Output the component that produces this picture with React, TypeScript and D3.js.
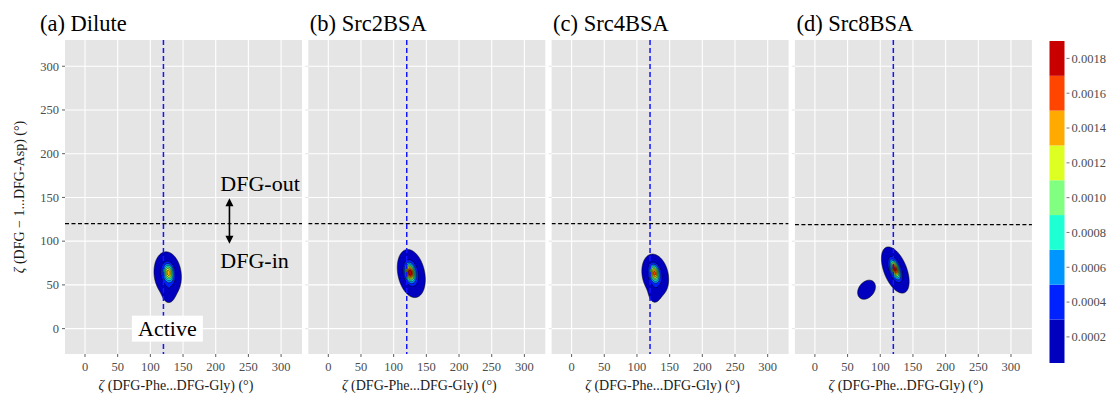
import React, { useMemo } from 'react';
import * as d3 from 'd3';

const W = 1111;
const H = 398;
const FONT = "'Liberation Serif', 'Times New Roman', serif";

// ---------- data ----------
const panelTitles = ['(a) Dilute', '(b) Src2BSA', '(c) Src4BSA', '(d) Src8BSA'];
const xTicks = [0, 50, 100, 150, 200, 250, 300];
const yTicks = [0, 50, 100, 150, 200, 250, 300];
const xDomain = [-30.6, 332];
const yDomain = [-29, 330];
const activeZeta = 120; // vertical dashed reference (x)
const dfgZeta = [120, 120, 120, 119]; // horizontal dashed reference (y), per panel

// density bins (fill levels) and colours
const levelBreaks = [0.00005, 0.0003, 0.0005, 0.0007, 0.0009, 0.0011, 0.0013, 0.0015, 0.0017];
const levelColors = ['#0000BE', '#0022FF', '#0096FF', '#1EFFD4', '#80FF80', '#DDFF22', '#FFAA00', '#FF4500', '#C80000'];
const barTicks = [0.0002, 0.0004, 0.0006, 0.0008, 0.001, 0.0012, 0.0014, 0.0016, 0.0018];
const barDomain = [0.00005, 0.0019];

// density modes: [cx, cy, sx, sy, rho, peak]
const modesDilute = [
  [126.5, 62, 10, 12.3, -0.12, 0.00045],
  [128, 40, 5, 6, 0, 0.00015],
  [128, 64, 4.8, 6, -0.15, 0.001],
];
const modesSrc2 = [
  [127, 63, 10, 12.8, -0.25, 0.0005],
  [125, 64, 4.5, 6, -0.2, 0.0014],
];
const modesSrc4 = [
  [128, 61, 9.8, 11.5, -0.2, 0.00045],
  [127, 40, 5, 6, 0, 0.00015],
  [126.6, 63.5, 4.5, 5.8, -0.2, 0.00115],
];
const modesSrc8 = [
  [123, 67, 9.9, 12.3, -0.5, 0.0005],
  [122.6, 68, 4.3, 6, -0.5, 0.0013],
  [79, 44.5, 7.6, 6.1, 0.3, 0.00025],
];
const panelModes = [modesDilute, modesSrc2, modesSrc4, modesSrc8];

// annotations (panel a)
const arrowX = 221;
const arrowY = [149, 97];
const labelOut = { x: 207, y: 157, text: 'DFG-out' };
const labelIn = { x: 207, y: 69, text: 'DFG-in' };
const labelActive = { x: 126, y: 0, text: 'Active' };

// ---------- layout ----------
const panelLefts = [65, 308.3, 551.6, 794.9];
const panelW = 237;
const panelTop = 40;
const panelBottom = 354;

// grid for density evaluation
const G = { x0: 30, x1: 220, y0: -10, y1: 150, step: 0.5 };

function densityGrid(modes: number[][]) {
  const nx = Math.round((G.x1 - G.x0) / G.step);
  const ny = Math.round((G.y1 - G.y0) / G.step);
  const vals = new Float64Array(nx * ny);
  for (let j = 0; j < ny; j++) {
    const y = G.y0 + (j + 0.5) * G.step;
    for (let i = 0; i < nx; i++) {
      const x = G.x0 + (i + 0.5) * G.step;
      let v = 0;
      for (const [cx, cy, sx, sy, rho, peak] of modes) {
        const dx = (x - cx) / sx;
        const dy = (y - cy) / sy;
        const z = (dx * dx - 2 * rho * dx * dy + dy * dy) / (2 * (1 - rho * rho));
        v += peak * Math.exp(-z);
      }
      vals[i + j * nx] = v;
    }
  }
  return { nx, ny, vals };
}

function Panel({ idx }: { idx: number }) {
  const left = panelLefts[idx];
  const x = d3.scaleLinear().domain(xDomain).range([left, left + panelW]);
  const y = d3.scaleLinear().domain(yDomain).range([panelBottom, panelTop]);

  const contours = useMemo(() => {
    const { nx, ny, vals } = densityGrid(panelModes[idx]);
    return d3.contours().size([nx, ny]).smooth(true).thresholds(levelBreaks)(Array.from(vals));
  }, [idx]);

  const proj = d3.geoTransform({
    point(px: number, py: number) {
      // @ts-ignore
      this.stream.point(x(G.x0 + px * G.step), y(G.y0 + py * G.step));
    },
  });
  const path = d3.geoPath(proj);
  const clipId = `clip${idx}`;

  return (
    <g>
      <defs>
        <clipPath id={clipId}>
          <rect x={left} y={panelTop} width={panelW} height={panelBottom - panelTop} />
        </clipPath>
      </defs>
      <rect x={left} y={panelTop} width={panelW} height={panelBottom - panelTop} fill="#E5E5E5" />
      {xTicks.map((t) => (
        <line key={'gx' + t} x1={x(t)} x2={x(t)} y1={panelTop} y2={panelBottom} stroke="#fff" strokeWidth={1.1} />
      ))}
      {yTicks.map((t) => (
        <line key={'gy' + t} x1={left} x2={left + panelW} y1={y(t)} y2={y(t)} stroke="#fff" strokeWidth={1.1} />
      ))}
      <g clipPath={`url(#${clipId})`}>
        {contours.map((c, i) => (
          <path key={'f' + i} d={path(c as any) || ''} fill={levelColors[i]} stroke="none" />
        ))}
        {contours.map((c, i) => (
          <path key={'s' + i} d={path(c as any) || ''} fill="none" stroke="#000" strokeWidth={0.55} />
        ))}
        <line x1={x(activeZeta)} x2={x(activeZeta)} y1={panelTop} y2={panelBottom} stroke="#1414FF" strokeWidth={1.5} strokeDasharray="5,3" />
        <line x1={left} x2={left + panelW} y1={y(dfgZeta[idx])} y2={y(dfgZeta[idx])} stroke="#000" strokeWidth={1.3} strokeDasharray="4,2.5" />
      </g>
      {/* x axis */}
      {xTicks.map((t) => (
        <g key={'xt' + t}>
          <line x1={x(t)} x2={x(t)} y1={panelBottom} y2={panelBottom + 3} stroke="#333" strokeWidth={0.8} />
          <text x={x(t)} y={panelBottom + 17} textAnchor="middle" fontSize={12.5} fill="#4D4D4D" fontFamily={FONT}>{t}</text>
        </g>
      ))}
      <text x={left + 111} y={390} textAnchor="middle" fontSize={14} fill="#1a1a1a" fontFamily={FONT}>
        <tspan fontStyle="italic">ζ</tspan> (DFG-Phe...DFG-Gly) (°)
      </text>
      {/* y axis ticks */}
      {yTicks.map((t) => (
        <line key={'yt' + t} x1={left - 3} x2={left} y1={y(t)} y2={y(t)} stroke={idx === 0 ? '#333' : '#DDD'} strokeWidth={0.8} />
      ))}
      {idx === 0 &&
        yTicks.map((t) => (
          <text key={'yl' + t} x={left - 6} y={y(t) + 4.3} textAnchor="end" fontSize={12.5} fill="#4D4D4D" fontFamily={FONT}>{t}</text>
        ))}
      <text x={idx === 0 ? 40 : left + 1.5} y={31} fontSize={22.5} fill="#000" fontFamily={FONT}>{panelTitles[idx]}</text>
      {idx === 0 && <Annotations x={x} y={y} />}
    </g>
  );
}

function Annotations({ x, y }: { x: any; y: any }) {
  const ax = x(arrowX);
  const yTop = y(arrowY[0]);
  const yBot = y(arrowY[1]);
  const ah = 8;
  const aw = 4;
  const boxW = 71;
  const boxH = 26;
  const cx = x(labelActive.x);
  const cy = y(labelActive.y);
  return (
    <g fontFamily={FONT}>
      <text x={x(labelOut.x)} y={y(labelOut.y)} fontSize={22} fill="#000">{labelOut.text}</text>
      <text x={x(labelIn.x)} y={y(labelIn.y)} fontSize={22} fill="#000">{labelIn.text}</text>
      <line x1={ax} x2={ax} y1={yTop + 4} y2={yBot - 4} stroke="#000" strokeWidth={1.6} />
      <path d={`M${ax},${yTop} L${ax - aw},${yTop + ah} L${ax + aw},${yTop + ah} Z`} fill="#000" />
      <path d={`M${ax},${yBot} L${ax - aw},${yBot - ah} L${ax + aw},${yBot - ah} Z`} fill="#000" />
      <rect x={cx - boxW / 2} y={cy - boxH / 2} width={boxW} height={boxH} fill="#fff" />
      <text x={cx} y={cy + 7.5} textAnchor="middle" fontSize={22} fill="#000">{labelActive.text}</text>
    </g>
  );
}

function ColorBar() {
  const by = d3.scaleLinear().domain(barDomain).range([363, 41]);
  const bx = 1049.5;
  const bw = 15;
  return (
    <g fontFamily={FONT}>
      {levelColors.map((c, i) => {
        const lo = i === 0 ? barDomain[0] : levelBreaks[i];
        const hi = i === levelColors.length - 1 ? barDomain[1] : levelBreaks[i + 1];
        return <rect key={i} x={bx} y={by(hi)} width={bw} height={by(lo) - by(hi)} fill={c} />;
      })}
      {barTicks.map((t) => (
        <g key={t}>
          <line x1={bx + bw + 2} x2={bx + bw + 5} y1={by(t)} y2={by(t)} stroke="#555" strokeWidth={0.8} />
          <text x={bx + bw + 7} y={by(t) + 4.3} fontSize={12.5} fill="#4D4D4D">{t.toFixed(4)}</text>
        </g>
      ))}
    </g>
  );
}

export default function App() {
  const yMid = (panelTop + panelBottom) / 2;
  return (
    <svg width={W} height={H} style={{ position: 'absolute', left: 0, top: 0, background: '#fff' }} fontFamily={FONT}>
      <rect x={0} y={0} width={W} height={H} fill="#fff" />
      {panelTitles.map((_, i) => (
        <Panel key={i} idx={i} />
      ))}
      <text transform={`translate(24,${yMid}) rotate(-90)`} textAnchor="middle" fontSize={14} fill="#1a1a1a" fontFamily={FONT}>
        <tspan fontStyle="italic">ζ</tspan> (DFG − 1...DFG-Asp) (°)
      </text>
      <ColorBar />
    </svg>
  );
}
